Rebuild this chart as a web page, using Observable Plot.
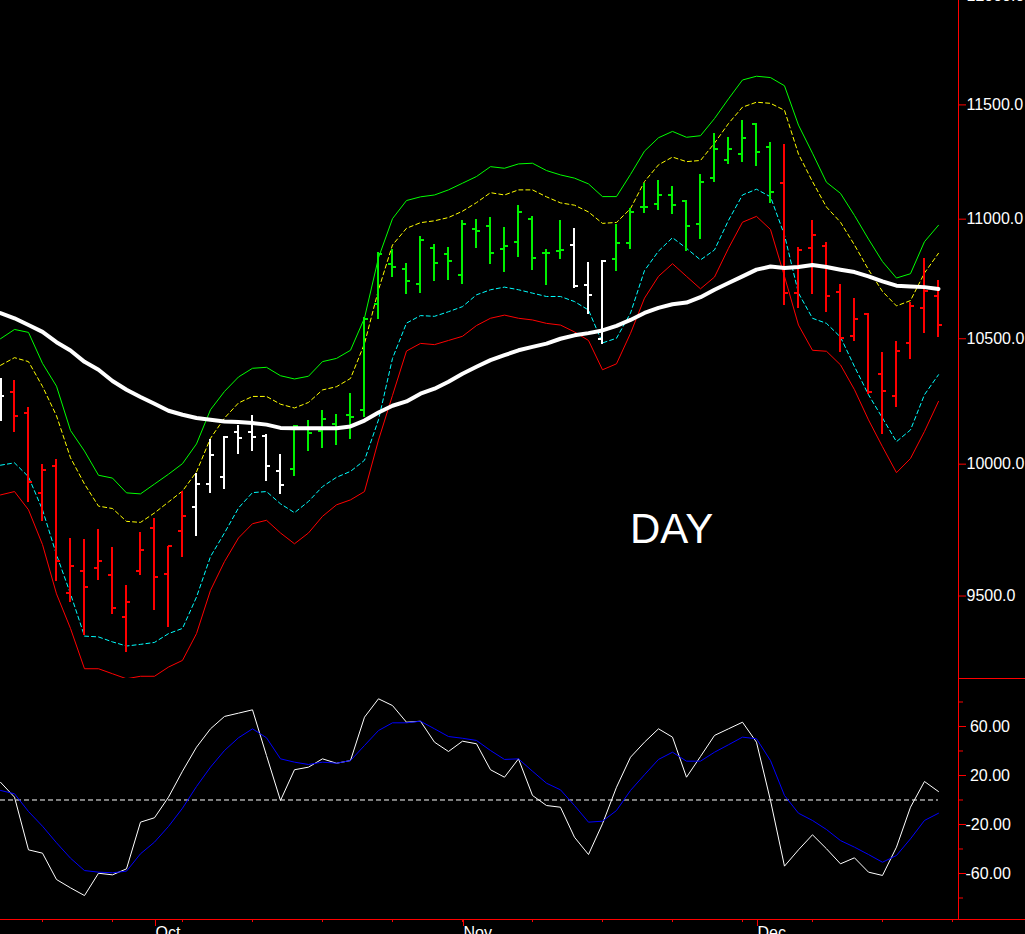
<!DOCTYPE html>
<html><head><meta charset="utf-8">
<script src="https://cdn.jsdelivr.net/npm/d3@7"></script>
<script src="https://cdn.jsdelivr.net/npm/@observablehq/plot@0.6"></script>
<style>
html,body{margin:0;padding:0;background:#000;overflow:hidden;width:1025px;height:934px;}
#wrap{position:relative;width:1025px;height:934px;overflow:hidden;background:#000;}
#price svg{display:block;margin-top:-20px;}
#osc svg{display:block;}
.day{position:absolute;left:630px;top:508px;color:#fff;font-family:"Liberation Sans",Arial,sans-serif;font-size:42px;line-height:42px;white-space:nowrap;}
.hline{position:absolute;height:1px;background:#ff0000;}
</style></head>
<body><div id="wrap"><div id="price"></div><div id="osc"></div>
<div class="day">DAY</div>
<div class="hline" style="top:678px;left:958px;width:67px;"></div>
<div class="hline" style="top:919px;left:0;width:1025px;"></div>
</div>
<script>
// bar colours: r = red, w = white, g = green
const barColor = "wrrrrrrrrrrrrrwwwwwwwggggggggggggggggggggwwwggggggggggggrrrrrrrrrrrr".split("");
const openP  = [10214,10283,10203,9890,9992,9511,9594,9603,9578,9423,9594,9753,9582,9742,9833,9922,9951,10124,10124,10110,9973,9983,10142,10128,10158,10194,10211,10643,10811,10790,10724,10879,10853,10765,10960,10969,10872,10904,10999,10858,10866,10890,10723,10500,10832,10900,11052,11066,11104,11079,10981,11179,11254,11283,11417,11315,11155,10688,10879,10886,10691,10511,10602,10356,10267,10482,10628,10674];
const highP  = [10340,10330,10222,9999,10018,9714,9711,9749,9680,9540,9737,9790,9685,9896,9964,10097,10108,10150,10190,10117,10039,10150,10171,10211,10194,10278,10588,10860,10869,10810,10928,10894,10880,10995,10998,11009,10964,11060,11012,10873,10995,10960,10818,10824,10978,11045,11155,11165,11140,11079,11191,11371,11356,11432,11417,11334,11322,10880,10995,10901,10722,10664,10605,10444,10489,10650,10834,10740];
const lowP   = [10167,10124,9852,9780,9552,9477,9356,9556,9432,9295,9577,9445,9386,9643,9723,9885,9900,10039,10048,9932,9881,9951,10048,10060,10072,10097,10185,10579,10753,10682,10686,10737,10741,10724,10875,10806,10776,10837,10783,10720,10827,10709,10600,10476,10778,10872,11026,11039,11019,10862,10914,11157,11238,11245,11227,11067,10636,10625,10681,10609,10443,10490,10274,10117,10221,10416,10521,10507];
const closeP = [10267,10191,9932,9976,9632,9613,9533,9632,9456,9477,9670,9571,9685,9802,9922,10035,10108,10101,10108,9992,9920,10148,10121,10177,10140,10185,10579,10852,10799,10737,10912,10812,10824,10978,10950,10858,10887,11031,10837,10858,10869,10716,10681,10823,10897,11031,11052,11105,11060,10971,11162,11305,11305,11354,11293,11118,10688,10869,10933,10678,10502,10579,10283,10290,10451,10636,10695,10556];
const bandUpper = [10500,10538,10526,10400,10308,10132,10051,9957,9946,9889,9885,9923,9961,10002,10079,10214,10287,10345,10380,10384,10350,10337,10348,10407,10420,10453,10585,10836,11002,11080,11096,11104,11126,11155,11184,11227,11220,11239,11242,11210,11191,11177,11152,11097,11097,11193,11295,11354,11382,11356,11363,11439,11527,11612,11629,11623,11586,11410,11286,11159,11111,11016,10915,10820,10751,10769,10904,10974];
const bandUpperInner = [10392,10423,10407,10307,10190,10025,9923,9838,9829,9780,9776,9812,9854,9896,9970,10101,10181,10241,10267,10267,10236,10221,10243,10293,10306,10339,10480,10702,10890,10961,10985,10993,11007,11034,11071,11114,11104,11126,11126,11096,11070,11060,11031,10982,10986,11045,11162,11235,11269,11249,11254,11330,11417,11490,11512,11507,11476,11282,11162,11052,10987,10890,10786,10695,10635,10657,10772,10855];
const bandLowerInner = [9996,10005,9951,9824,9654,9508,9353,9350,9332,9317,9323,9330,9362,9381,9496,9647,9736,9831,9890,9894,9847,9813,9856,9913,9949,9972,10015,10174,10420,10564,10595,10592,10611,10632,10681,10702,10713,10702,10688,10674,10674,10653,10618,10483,10502,10605,10782,10864,10921,10876,10827,10869,10995,11104,11129,11096,10932,10688,10584,10563,10507,10387,10274,10181,10088,10134,10274,10354];
const bandLower = [9881,9894,9824,9692,9508,9381,9235,9235,9217,9199,9208,9208,9241,9265,9362,9521,9628,9717,9771,9784,9736,9695,9736,9799,9843,9862,9894,10094,10271,10450,10481,10476,10493,10510,10554,10584,10597,10584,10577,10563,10556,10528,10493,10374,10398,10522,10667,10758,10811,10758,10706,10755,10876,10987,11012,10956,10758,10556,10453,10449,10394,10294,10174,10068,9967,10022,10128,10247];
const movingAvg = [10605,10584,10556,10528,10486,10452,10406,10374,10329,10294,10265,10238,10210,10194,10181,10174,10167,10165,10161,10155,10142,10141,10141,10141,10141,10148,10171,10203,10230,10247,10278,10298,10326,10358,10386,10413,10433,10453,10467,10480,10500,10514,10523,10534,10553,10577,10606,10627,10642,10649,10671,10702,10730,10758,10786,10799,10793,10797,10806,10797,10786,10776,10758,10737,10719,10716,10713,10705];
const oscMain = [14.5,2.3,-40.7,-43.4,-64.9,-71.7,-78.0,-59.8,-61.1,-56.2,-18.1,-14.5,2.3,23.5,43.1,58.1,68.2,70.9,73.6,36.3,-0.4,24.7,26.8,33.6,30.0,32.2,67.6,82.6,77.1,63.5,64.3,47.2,39.6,48.0,45.9,24.7,18.6,33.6,3.7,-4.5,-5.9,-30.4,-44.5,-19.4,10.4,34.9,47.2,58.1,51.3,18.6,35.5,52.7,58.1,63.5,47.2,-0.4,-54.0,-40.7,-28.4,-39.8,-52.1,-47.2,-58.9,-61.6,-38.5,-5.9,15.1,6.9];
const oscSignal = [7.8,5.1,-9.4,-21.4,-34.9,-47.5,-57.6,-58.9,-59.4,-58.1,-43.9,-34.4,-21.6,-6.7,11.0,26.8,40.4,50.8,58.1,50.8,33.6,30.9,29.0,30.9,30.0,32.2,44.5,56.7,63.0,63.0,64.3,58.1,51.8,50.4,48.6,40.4,33.1,33.6,23.5,13.7,8.3,-4.5,-18.1,-17.3,-8.6,7.8,20.6,33.1,39.0,31.7,31.7,39.0,45.1,51.3,50.0,32.2,3.7,-10.8,-16.7,-24.1,-33.1,-38.5,-44.5,-50.8,-45.3,-31.7,-16.7,-10.8];
const priceTicks = [9500, 10000, 10500, 11000, 11500, 12000];
const oscTicks = [60, 20, -20, -60];
const oscMinorTicks = [80, 40, 0, -40, -80];
const weekTicks = [3, 8, 13, 18, 23, 28, 33, 38, 43, 48, 53, 58, 63, 68];
const monthTicks = [11, 33, 54];
const monthLabels = ["Oct", "Nov", "Dec"];

const rows = openP.map((o, k) => ({
  k, open: o, high: highP[k], low: lowP[k], close: closeP[k], c: barColor[k],
  up: bandUpper[k], upi: bandUpperInner[k], loi: bandLowerInner[k], lo: bandLower[k],
  ma: movingAvg[k], osc: oscMain[k], sig: oscSignal[k]
}));
const colorMap = {r: "#ff0000", w: "#ffffff", g: "#00f000"};
const xDom = [0, 68.43];
const font = {background: "transparent", color: "#fff", fontFamily: "'Liberation Sans', Arial, sans-serif", fontSize: "16px"};

const barMarks = [];
for (const c of ["r", "w", "g"]) {
  const sub = rows.filter(d => d.c === c);
  const s = colorMap[c];
  barMarks.push(
    Plot.ruleX(sub, {x: "k", y1: "low", y2: "high", stroke: s, strokeWidth: 2, shapeRendering: "crispEdges"}),
    Plot.ruleY(sub, {y: "open", x1: d => d.k - 0.3, x2: "k", stroke: s, strokeWidth: 2, shapeRendering: "crispEdges"}),
    Plot.ruleY(sub, {y: "close", x1: "k", x2: d => d.k + 0.3, stroke: s, strokeWidth: 2, shapeRendering: "crispEdges"})
  );
}

const price = Plot.plot({
  width: 1025, height: 698, marginTop: 15, marginBottom: 0, marginLeft: 0, marginRight: 67,
  style: font,
  x: {type: "linear", domain: xDom, axis: null},
  y: {type: "log", domain: [9200, 12000], axis: null},
  marks: [
    Plot.line(rows, {x: "k", y: "up", stroke: "#00ff00", strokeWidth: 1}),
    Plot.line(rows, {x: "k", y: "upi", stroke: "#ffff00", strokeWidth: 1, strokeDasharray: "4,3"}),
    Plot.line(rows, {x: "k", y: "loi", stroke: "#00ffff", strokeWidth: 1, strokeDasharray: "4,3"}),
    Plot.line(rows, {x: "k", y: "lo", stroke: "#ff0000", strokeWidth: 1}),
    ...barMarks,
    Plot.line(rows, {x: "k", y: "ma", stroke: "#ffffff", strokeWidth: 4}),
    Plot.ruleX([xDom[1]], {stroke: "#ff0000"}),
    Plot.axisY({anchor: "right", ticks: priceTicks, tickFormat: d => d.toFixed(1), tickSize: 7, tickPadding: 1, stroke: "#ff0000", fill: "#ffffff"})
  ]
});
document.getElementById("price").appendChild(price);

const osc = Plot.plot({
  width: 1025, height: 280, marginTop: 0, marginBottom: 39, marginLeft: 0, marginRight: 67,
  style: font,
  x: {type: "linear", domain: xDom, axis: null},
  y: {type: "linear", domain: [-97.55, 99.18], axis: null},
  marks: [
    Plot.ruleY([0], {x1: rows[0].k, x2: rows[rows.length - 1].k, stroke: "#ffffff", strokeDasharray: "5,3"}),
    Plot.line(rows, {x: "k", y: "osc", stroke: "#ffffff", strokeWidth: 1}),
    Plot.line(rows, {x: "k", y: "sig", stroke: "#0000ff", strokeWidth: 1}),
    Plot.ruleX([xDom[1]], {stroke: "#ff0000"}),
    Plot.axisY({anchor: "right", ticks: oscTicks, tickFormat: d => (d >= 0 ? "\u00a0" : "") + d.toFixed(2), tickSize: 7, tickPadding: 0, stroke: "#ff0000", fill: "#ffffff"}),
    Plot.axisY({anchor: "right", ticks: oscMinorTicks, tickSize: 4, stroke: "#ff0000", fill: "none"}),
    Plot.axisX({anchor: "bottom", ticks: weekTicks, tickSize: 3, stroke: "#ff0000", fill: "none"}),
    Plot.axisX({anchor: "bottom", ticks: monthTicks, tickFormat: d => monthLabels[monthTicks.indexOf(d)], tickSize: 7, tickPadding: 0, textAnchor: "start", dx: 1, stroke: "#ff0000", fill: "#ffffff"})
  ]
});
document.getElementById("osc").appendChild(osc);
</script>
</body></html>
